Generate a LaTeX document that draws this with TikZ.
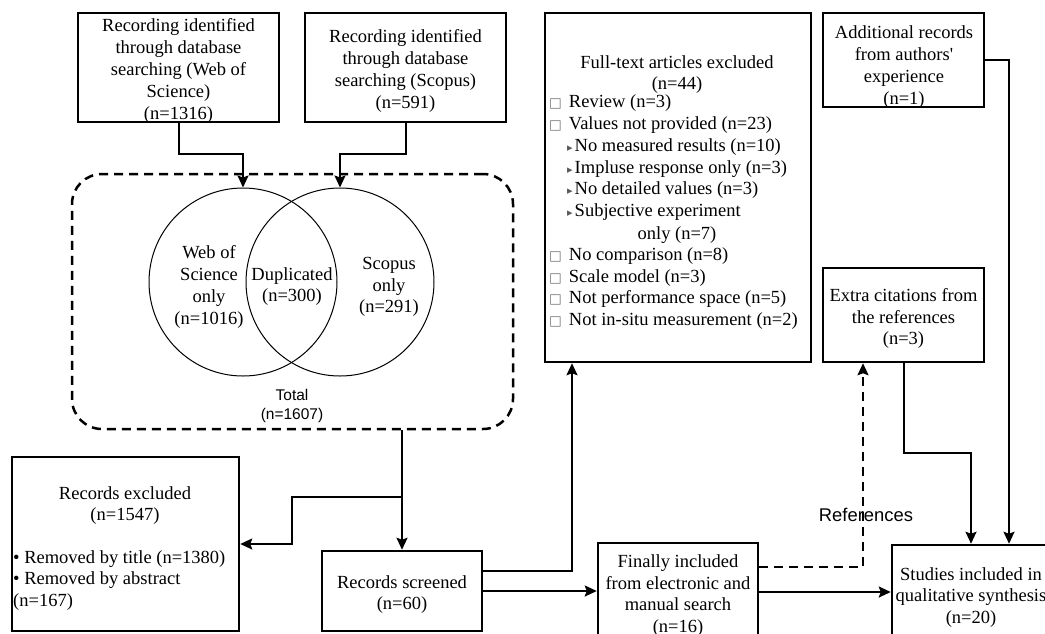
\documentclass[tikz,border=0pt]{standalone}
\usepackage{fontspec}
\setmainfont{Liberation Serif}
\setsansfont{Liberation Sans}
\newfontfamily\symf{DejaVu Sans}
\usetikzlibrary{arrows.meta}
\newcommand{\sqm}{{\symf\fontsize{13.5pt}{12pt}\selectfont\color{black!55}□}}
\newcommand{\trm}{{\symf\fontsize{11pt}{10pt}\selectfont\color{black!65}▸}}
\tikzset{
  txt/.style={font=\fontsize{18.5pt}{21.8pt}\selectfont},
  sanstxt/.style={font=\sffamily\fontsize{18.4pt}{21pt}\selectfont},
  boxstyle/.style={draw, line width=2.5pt, inner sep=0pt},
  plain/.style={inner sep=0pt, align=center, txt, yshift=-3.5pt},
  li/.style={inner sep=0pt, anchor=west, txt, text height=13pt, text depth=4.5pt, yshift=-2.5pt},
  arr/.style={line width=2pt, -{Stealth[length=12pt,width=11pt,inset=2pt]}},
  darr/.style={line width=2pt, dash pattern=on 9pt off 6pt, -{Stealth[length=12pt,width=11pt,inset=2pt]}},
  venn/.style={circle, draw, line width=1pt, minimum size=188pt, inner sep=0pt},
}
\begin{document}
\begin{tikzpicture}[x=1pt,y=-1pt]
\useasboundingbox (0,0) rectangle (1045,633);
\clip (0,0) rectangle (1045,633);

% top source boxes
\node[boxstyle, minimum width=201pt, minimum height=109pt] (wos) at (178.5,67.5) {};
\node[plain] (wostxt) at (wos.center)
  {Recording identified\\through database\\searching (Web of\\Science)\\(n=1316)};
\node[boxstyle, minimum width=201pt, minimum height=109pt] (scop) at (405.5,67.5) {};
\node[plain] (scoptxt) at (scop.center)
  {Recording identified\\through database\\searching (Scopus)\\(n=591)};

% total dashed box and venn
\node[draw, line width=2.5pt, dash pattern=on 9pt off 6pt, rounded corners=30pt,
      minimum width=441pt, minimum height=255pt, inner sep=0pt] (total) at (292.5,301.5) {};
\node[venn] (lc) at (243,282) {};
\node[venn] (rc) at (340,282) {};
\node[plain] (wosonly) at (209,283.5) {Web of\\Science\\only\\(n=1016)};
\node[plain] (dup) at (292,283) {Duplicated\\(n=300)};
\node[plain] (sconly) at (389,283.5) {Scopus\\only\\(n=291)};
\node[inner sep=0pt, align=center, font=\sffamily\fontsize{15.5pt}{19pt}\selectfont] (totlab) at (292,406) {Total\\(n=1607)};

% full-text excluded
\node[boxstyle, minimum width=266pt, minimum height=349pt] (ft) at (678,187.5) {};
\node[plain] (fthead) at (677,71) {Full-text articles excluded\\(n=44)};
\node[li] (ft1) at (549,101) {\sqm\hspace{7pt}Review (n=3)};
\node[li] (ft2) at (549,122.8) {\sqm\hspace{7pt}Values not provided (n=23)};
\node[li] (ft3) at (567,144.6) {\trm\hspace{2pt}No measured results (n=10)};
\node[li] (ft4) at (567,166.4) {\trm\hspace{2pt}Impluse response only (n=3)};
\node[li] (ft5) at (567,188.2) {\trm\hspace{2pt}No detailed values (n=3)};
\node[li] (ft6) at (567,210) {\trm\hspace{2pt}Subjective experiment};
\node[plain] (ft7) at (677,231.8) {only (n=7)};
\node[li] (ft8) at (549,253.6) {\sqm\hspace{7pt}No comparison (n=8)};
\node[li] (ft9) at (549,275.4) {\sqm\hspace{7pt}Scale model (n=3)};
\node[li] (ft10) at (549,297.2) {\sqm\hspace{7pt}Not performance space (n=5)};
\node[li] (ft11) at (549,319) {\sqm\hspace{7pt}Not in-situ measurement (n=2)};

% right column
\node[boxstyle, minimum width=161pt, minimum height=94pt] (add) at (903.5,60) {};
\node[plain] (addtxt) at (904,63.5) {Additional records\\from authors\textquotesingle\\experience\\(n=1)};
\node[boxstyle, minimum width=161pt, minimum height=94pt] (extra) at (903.5,315) {};
\node[plain] (extratxt) at (extra.center) {Extra citations from\\the references\\(n=3)};

% records excluded
\node[boxstyle, minimum width=227pt, minimum height=174pt] (excl) at (125.5,544) {};
\node[plain] (exclhead) at (125,502) {Records excluded\\(n=1547)};
\node[inner sep=0pt, align=left, anchor=west, txt, yshift=-2pt] (excllist) at (13,578.5)
  {• Removed by title (n=1380)\\• Removed by abstract\\(n=167)};

% bottom row
\node[boxstyle, minimum width=160pt, minimum height=80pt] (scr) at (402,591) {};
\node[plain] (scrtxt) at (scr.center) {Records screened\\(n=60)};
\node[boxstyle, minimum width=160pt, minimum height=98pt] (fin) at (678,592) {};
\node[plain] (fintxt) at (fin.center) {Finally included\\from electronic and\\manual search\\(n=16)};
\node[boxstyle, minimum width=158pt, minimum height=98pt] (stud) at (971,594) {};
\node[plain] (studtxt) at (stud.center) {Studies included in\\qualitative synthesis\\(n=20)};

% helper coordinates
\coordinate (j1) at (0,154);
\coordinate (j2) at (292,497);
\coordinate (j4) at (572,0);
\coordinate (j5) at (863,0);
\coordinate (j6) at (971,453);
\coordinate (j7) at (1009,0);

% connectors
\draw[arr] (wos.south) -- (wos.south |- j1) -| (lc.north);
\draw[arr] (scop.south) -- (scop.south |- j1) -| (rc.north);
\draw[arr] (scr.north |- total.south) -- (scr.north);
\draw[arr] (scr.north |- j2) -- (j2) |- (excl.east);
\draw[arr] ([yshift=20pt]scr.east) -| (ft.south -| j4);
\draw[arr] (scr.east) -- (scr.east -| fin.west);
\draw[darr] ([yshift=25pt]fin.east) -| (extra.south -| j5);
\node[sanstxt, inner sep=0pt, yshift=-2pt] (reflab) at (866,513) {References};
\draw[arr] (fin.east) -- (fin.east -| stud.west);
\draw[arr] (extra.south) |- (j6) -- (stud.north);
\draw[arr] (add.east) -| (stud.north -| j7);
\end{tikzpicture}
\end{document}
